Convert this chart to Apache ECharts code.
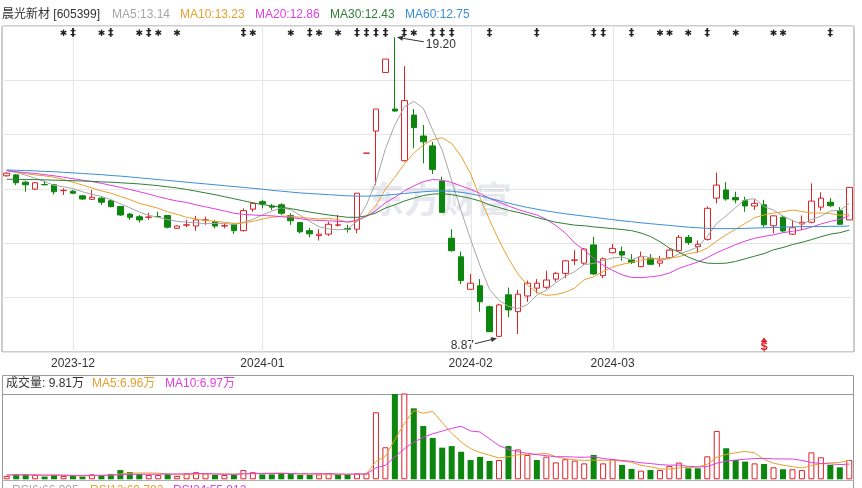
<!DOCTYPE html>
<html><head><meta charset="utf-8">
<script src="https://cdn.jsdelivr.net/npm/echarts/dist/echarts.min.js"></script>
<style>html,body{margin:0;padding:0;background:#fff;}#c{width:862px;height:488px;}</style>
</head><body><div id="c"></div>
<script>
// ---------------- DATA ----------------
const dates = [
'2023-11-22','2023-11-23','2023-11-24','2023-11-27','2023-11-28','2023-11-29','2023-11-30',
'2023-12-01','2023-12-04','2023-12-05','2023-12-06','2023-12-07','2023-12-08','2023-12-11','2023-12-12','2023-12-13','2023-12-14',
'2023-12-15','2023-12-18','2023-12-19','2023-12-20','2023-12-21','2023-12-22','2023-12-25','2023-12-26','2023-12-27','2023-12-28',
'2024-01-02','2024-01-03','2024-01-04','2024-01-05','2024-01-08','2024-01-09','2024-01-10','2024-01-11','2024-01-12','2024-01-15',
'2024-01-16','2024-01-17','2024-01-18','2024-01-19','2024-01-22','2024-01-23','2024-01-24','2024-01-25','2024-01-26','2024-01-29',
'2024-01-30','2024-01-31',
'2024-02-01','2024-02-02','2024-02-05','2024-02-06','2024-02-07','2024-02-08','2024-02-19','2024-02-20','2024-02-21','2024-02-22',
'2024-02-23','2024-02-26','2024-02-27','2024-02-28','2024-02-29',
'2024-03-01','2024-03-04','2024-03-05','2024-03-06','2024-03-07','2024-03-08','2024-03-11','2024-03-12','2024-03-13','2024-03-14',
'2024-03-15','2024-03-18','2024-03-19','2024-03-20','2024-03-21','2024-03-22','2024-03-25','2024-03-26','2024-03-27','2024-03-28',
'2024-03-29','2024-04-01','2024-04-02','2024-04-03','2024-04-08','2024-04-09'];
const tickLabels = ['2023-12','2024-01','2024-02','2024-03'];

const openP = [14.43,14.46,14.21,13.97,14.13,14.12,13.92,13.90,13.74,13.62,
13.66,13.57,13.37,13.11,13.02,13.00,13.03,13.06,12.62,12.73,
12.70,12.90,12.85,12.70,12.76,12.54,13.28,13.54,13.39,13.43,
13.06,12.82,12.54,12.37,12.42,12.73,12.61,12.59,15.21,15.97,
17.99,16.73,14.95,16.52,15.80,15.46,14.25,12.28,11.64,10.52,
10.64,9.92,8.90,10.33,9.75,10.29,10.56,10.59,10.87,11.07,
11.52,11.42,12.05,10.99,11.78,11.82,11.53,11.30,11.59,11.42,
11.61,11.85,12.31,11.99,12.24,13.66,13.94,13.68,13.57,13.39,
13.43,12.71,13.00,12.42,12.77,12.83,13.35,13.52,13.23,12.91];
const closeP = [14.52,14.19,14.12,14.19,14.12,13.88,13.93,13.83,13.63,13.69,
13.52,13.37,13.08,13.00,12.91,13.01,13.02,12.66,12.70,12.74,
12.91,12.91,12.70,12.71,12.54,13.23,13.48,13.46,13.35,13.14,
12.88,12.50,12.43,12.42,12.76,12.74,12.59,13.83,15.21,16.73,
18.45,16.66,17.02,16.09,15.60,14.65,13.17,11.85,10.82,10.73,
10.09,9.06,9.98,9.81,10.35,10.73,10.73,10.84,11.07,11.50,
11.53,11.91,11.05,11.57,11.93,11.70,11.44,11.64,11.38,11.50,
11.87,12.31,12.13,12.07,13.31,14.11,13.63,13.60,13.39,13.48,
12.74,13.05,12.53,12.64,12.83,13.56,13.66,13.40,12.76,14.03];
const lowP = [14.40,14.11,13.88,13.94,14.10,13.79,13.77,13.80,13.60,13.60,
13.43,13.34,13.05,12.91,12.82,12.91,13.01,12.62,12.60,12.66,
12.54,12.74,12.62,12.62,12.43,12.51,13.19,13.31,13.25,13.08,
12.74,12.45,12.31,12.20,12.36,12.68,12.47,12.45,15.21,14.11,
17.99,16.64,14.92,15.38,14.86,14.49,13.16,11.82,10.70,10.50,
9.75,9.05,8.87,9.56,8.98,10.09,10.38,10.52,10.78,10.90,
11.36,11.36,11.01,10.90,11.76,11.51,11.39,11.28,11.36,11.30,
11.59,11.84,12.05,11.78,12.20,13.48,13.57,13.48,13.19,13.25,
12.66,12.45,12.47,12.39,12.56,12.79,13.23,13.35,12.74,12.91];
const highP = [14.55,14.49,14.26,14.22,14.26,14.15,14.00,13.94,13.77,13.94,
13.71,13.60,13.39,13.15,13.08,13.16,13.19,13.08,12.72,12.91,
13.05,13.02,12.91,12.79,12.80,13.31,13.51,13.60,13.46,13.48,
13.14,12.84,12.64,12.59,12.85,13.08,12.74,13.84,15.21,16.73,
18.45,19.20,18.21,16.73,16.18,15.60,14.40,12.59,11.82,11.05,
10.87,9.96,10.02,10.58,10.50,10.82,10.87,11.16,11.12,11.53,
11.87,11.94,12.33,11.62,12.08,11.99,11.73,11.82,11.73,11.67,
11.93,12.39,12.39,12.20,13.37,14.54,14.21,13.88,13.71,13.62,
13.60,13.06,13.06,12.91,13.06,14.17,13.86,13.66,13.35,14.04];

const ma5 = [14.62,14.55,14.45,14.35,14.23,14.10,14.05,13.99,13.88,13.79,
13.72,13.61,13.46,13.33,13.18,13.07,13.00,12.92,12.86,12.83,
12.81,12.78,12.79,12.79,12.75,12.82,12.93,13.08,13.21,13.33,
13.26,13.07,12.86,12.67,12.60,12.57,12.59,12.87,13.43,14.22,
15.36,16.18,16.81,16.99,16.76,16.00,15.31,14.27,13.22,12.24,
11.33,10.51,10.14,9.93,9.86,9.99,10.32,10.49,10.74,10.97,
11.13,11.37,11.41,11.51,11.60,11.63,11.54,11.66,11.62,11.53,
11.57,11.74,11.84,11.98,12.34,12.79,13.05,13.34,13.61,13.64,
13.37,13.25,13.04,12.89,12.76,12.92,13.04,13.22,13.24,13.48];
const ma10 = [14.62,14.56,14.50,14.46,14.43,14.38,14.30,14.21,14.11,14.01,
13.91,13.83,13.72,13.61,13.48,13.40,13.31,13.19,13.10,13.00,
12.94,12.89,12.86,12.83,12.79,12.81,12.86,12.94,13.00,13.04,
13.04,13.00,12.97,12.94,12.97,12.92,12.83,12.86,13.05,13.41,
13.97,14.38,14.84,15.21,15.49,15.68,15.74,15.54,15.10,14.50,
13.67,12.91,12.20,11.58,11.05,10.66,10.42,10.31,10.34,10.42,
10.56,10.85,10.95,11.13,11.29,11.38,11.45,11.53,11.57,11.57,
11.60,11.64,11.75,11.80,11.94,12.18,12.40,12.59,12.79,12.99,
13.08,13.15,13.19,13.25,13.20,13.15,13.15,13.13,13.07,13.12];
const ma20 = [14.60,14.57,14.54,14.51,14.47,14.43,14.38,14.33,14.28,14.23,
14.17,14.10,14.03,13.96,13.88,13.80,13.71,13.63,13.56,13.51,
13.43,13.36,13.29,13.22,13.14,13.10,13.08,13.06,13.05,13.02,
12.99,12.95,12.91,12.89,12.88,12.86,12.84,12.90,13.03,13.23,
13.50,13.69,13.91,14.08,14.23,14.30,14.28,14.20,14.08,13.96,
13.82,13.65,13.52,13.39,13.27,13.17,13.08,12.93,12.72,12.46,
12.11,11.88,11.58,11.35,11.17,11.02,10.93,10.92,10.95,10.99,
11.08,11.24,11.35,11.46,11.61,11.78,11.92,12.06,12.18,12.28,
12.34,12.40,12.47,12.52,12.57,12.66,12.77,12.86,12.93,13.06];
const ma30 = [14.31,14.31,14.30,14.30,14.29,14.28,14.27,14.26,14.25,14.24,
14.22,14.21,14.19,14.17,14.15,14.12,14.09,14.05,14.01,13.96,
13.90,13.84,13.78,13.71,13.64,13.57,13.50,13.44,13.39,13.35,
13.30,13.24,13.18,13.13,13.08,13.04,13.00,13.00,13.05,13.15,
13.32,13.43,13.56,13.66,13.75,13.80,13.81,13.78,13.72,13.65,
13.56,13.43,13.34,13.24,13.17,13.09,12.99,12.91,12.83,12.78,
12.73,12.71,12.67,12.64,12.61,12.58,12.54,12.46,12.34,12.16,
11.94,11.80,11.63,11.50,11.42,11.41,11.42,11.48,11.57,11.66,
11.75,11.88,11.96,12.06,12.14,12.23,12.33,12.42,12.47,12.56];
const ma60 = [14.63,14.62,14.61,14.60,14.58,14.57,14.55,14.53,14.51,14.49,
14.47,14.44,14.42,14.39,14.36,14.33,14.30,14.27,14.24,14.21,
14.18,14.15,14.12,14.09,14.06,14.03,14.00,13.97,13.93,13.90,
13.87,13.84,13.82,13.80,13.78,13.76,13.74,13.73,13.73,13.74,
13.76,13.79,13.82,13.85,13.88,13.90,13.91,13.90,13.86,13.81,
13.74,13.66,13.57,13.49,13.41,13.34,13.28,13.22,13.17,13.12,
13.08,13.04,13.00,12.96,12.92,12.88,12.85,12.81,12.78,12.75,
12.72,12.69,12.66,12.64,12.62,12.61,12.61,12.61,12.62,12.63,
12.64,12.65,12.66,12.67,12.68,12.68,12.68,12.69,12.69,12.70];

// volume in 万手
const volume = [1.7,2.7,2.7,2.2,1.4,2.2,1.7,1.7,1.4,2.5,
2.2,2.7,4.7,3.7,2.7,2.2,2.2,2.7,1.7,3.0,
3.6,3.0,2.2,2.2,2.2,4.7,3.6,2.5,2.5,3.0,
3.0,2.2,2.2,2.5,3.0,2.5,2.5,3.0,3.0,34.1,
16.3,44.5,44.0,36.1,27.1,21.0,16.1,16.9,14.0,9.8,
11.4,9.3,9.8,16.9,15.2,12.4,9.8,11.5,8.6,10.2,
9.5,8.1,12.4,8.1,10.2,7.3,5.3,4.4,4.7,4.7,
6.8,8.5,5.6,5.6,11.7,24.6,15.8,9.8,9.0,8.1,
7.8,6.1,5.1,5.1,4.7,13.7,11.2,7.3,6.1,9.81];
// 1 = up day (red), -1 = down day (green)
const volDir = [1,-1,-1,1,-1,-1,1,-1,-1,1,
-1,-1,-1,-1,-1,1,1,-1,1,1,
1,1,-1,1,-1,1,1,-1,-1,-1,
-1,-1,-1,1,1,-1,-1,1,1,1,
1,-1,1,-1,-1,-1,-1,-1,-1,-1,
-1,-1,1,-1,1,1,-1,1,1,1,
1,1,-1,1,1,-1,-1,1,-1,1,
1,1,-1,-1,1,1,-1,-1,-1,1,
-1,1,-1,1,1,1,1,-1,-1,1];
const volMa5 = [2.2,2.3,2.3,2.2,2.14,2.24,2.04,1.84,1.68,1.90,
1.90,2.10,2.70,3.16,3.20,3.20,3.10,2.70,2.30,2.36,
2.64,2.80,2.70,2.80,2.64,2.86,2.98,3.04,3.10,3.26,
2.92,2.64,2.58,2.58,2.58,2.48,2.54,2.70,2.80,9.02,
11.78,20.18,28.38,35.00,33.60,34.54,28.86,23.44,19.02,15.56,
13.64,12.28,10.86,11.44,12.52,12.72,12.82,13.16,11.50,10.50,
9.92,9.58,9.76,9.66,9.66,9.22,8.66,7.06,6.38,5.28,
5.18,5.82,6.06,6.24,7.64,11.20,12.66,13.50,14.18,13.46,
10.10,8.16,7.22,6.44,5.76,6.94,7.96,8.40,8.60,9.62];
const volMa10 = [2.2,2.2,2.2,2.2,2.1,2.1,2.1,2.0,2.0,2.02,
2.07,2.07,2.27,2.42,2.55,2.55,2.60,2.70,2.73,2.78,
2.92,2.95,2.70,2.55,2.50,2.75,2.89,2.87,2.95,2.95,
2.89,2.81,2.81,2.84,2.92,2.70,2.59,2.64,2.69,5.80,
7.13,11.36,15.54,18.90,21.31,23.16,24.52,25.91,27.01,24.58,
24.09,20.57,17.15,15.23,14.04,13.18,12.55,12.01,11.47,11.51,
11.32,11.20,11.46,10.58,10.08,9.57,9.12,8.41,8.02,7.47,
7.20,7.24,6.56,6.31,6.46,8.19,9.24,9.78,10.21,10.55,
10.65,10.41,10.36,10.31,9.61,8.52,8.06,7.81,7.52,7.69];

// info markers above candles
const markerIdx = [6,7,10,11,14,15,16,18,25,26,30,32,33,35,37,38,39,40,42,43,45,46,47,51,56,62,63,66,69,70,72,74,77,81,82,87];
const markerSym = ['*','‡','*','‡','*','‡','*','*','‡','*','*','‡','*','*','‡','‡','‡','‡','‡','*','‡','‡','‡','‡','‡','‡','‡','‡','*','*','*','‡','*','*','*','‡'];
const signalIdx = [80];

const headerTexts = ['晨光新材 [605399]','MA5:13.14','MA10:13.23','MA20:12.86','MA30:12.43','MA60:12.75'];
const volHeaderTexts = ['成交量: 9.81万','MA5:6.96万','MA10:6.97万'];
const rsiTexts = ['RSI6:66.905','RSI12:60.782','RSI24:55.812'];

// ---------------- STYLE / LAYOUT ----------------
const RED = '#dd2328', GREEN = '#0d860e';
const C_MA5 = '#a6a6a6', C_MA10 = '#e8a030', C_MA20 = '#e040e0', C_MA30 = '#2f7f35', C_MA60 = '#3a8ed8';
const FONT = '"Liberation Sans", "Noto Sans CJK SC", sans-serif';
const PRICE_MIN = 8.36, PRICE_MAX = 19.59, VOL_MAX = 43.4;

const monthStart = [];
dates.forEach((d, i) => {
  const m = d.slice(0, 7);
  if ((i === 0 || dates[i - 1].slice(0, 7) !== m) && tickLabels.includes(m)) monthStart.push(i);
});

const chart = echarts.init(document.getElementById('c'));

const lineS = (data, color, xi, yi) => ({
  type: 'line', data, xAxisIndex: xi, yAxisIndex: yi, showSymbol: false, symbol: 'none',
  lineStyle: { color, width: 1 }, z: 3, silent: true
});

const option = {
  animation: false,
  textStyle: { fontFamily: FONT },
  grid: [
    { left: 2, top: 26, width: 852, height: 326, show: true, borderColor: '#9a9a9a', borderWidth: 1, backgroundColor: 'transparent' },
    { left: 2, top: 394, width: 852, height: 85.3 }
  ],
  xAxis: [
    { type: 'category', gridIndex: 0, data: dates, boundaryGap: true,
      axisLine: { show: false }, axisTick: { show: false }, splitLine: { show: false },
      axisLabel: { interval: (i) => monthStart.includes(i), formatter: (v) => v.slice(0, 7), color: '#333', fontSize: 12, margin: 6 } },
    { type: 'category', gridIndex: 1, data: dates, boundaryGap: true, show: false }
  ],
  yAxis: [
    { type: 'value', gridIndex: 0, min: PRICE_MIN, max: PRICE_MAX, show: false },
    { type: 'value', gridIndex: 0, min: 0, max: 6, interval: 1,
      axisLine: { show: false }, axisTick: { show: false }, axisLabel: { show: false },
      splitLine: { show: true, lineStyle: { color: '#e6e6e6', width: 1 } } },
    { type: 'value', gridIndex: 1, min: 0, max: VOL_MAX, show: false }
  ],
  series: [
    { type: 'custom', xAxisIndex: 0, yAxisIndex: 0, z: 1, silent: true,
      data: monthStart.map(i => [i]),
      renderItem: (params, api) => {
        const cs = params.coordSys;
        const x = Math.round(api.coord([api.value(0), PRICE_MIN])[0]) + 0.5;
        return { type: 'line', shape: { x1: x, y1: cs.y, x2: x, y2: cs.y + cs.height }, style: { stroke: '#e6e6e6', lineWidth: 1 } };
      } },
    { type: 'candlestick', xAxisIndex: 0, yAxisIndex: 0, z: 2, barWidth: 6, silent: true,
      data: dates.map((d, i) => [openP[i], closeP[i], lowP[i], highP[i]]),
      itemStyle: { color: '#ffffff', color0: GREEN, borderColor: RED, borderColor0: GREEN, borderWidth: 1 } },
    lineS(ma5, C_MA5, 0, 0),
    lineS(ma10, C_MA10, 0, 0),
    lineS(ma20, C_MA20, 0, 0),
    lineS(ma30, C_MA30, 0, 0),
    lineS(ma60, C_MA60, 0, 0),
    { type: 'custom', xAxisIndex: 0, yAxisIndex: 0, z: 4, silent: true,
      data: markerIdx.map(i => [i]),
      renderItem: (params, api) => {
        const cs = params.coordSys;
        const x = api.coord([api.value(0), PRICE_MIN])[0];
        const s = markerSym[params.dataIndex];
        return { type: 'text', style: {
          text: s === '*' ? '✱' : '‡', x: x, y: cs.y + 7.5, align: 'center', verticalAlign: 'middle',
          font: s === '*' ? '9px "DejaVu Sans"' : 'bold 11px "DejaVu Sans"', fill: '#222' } };
      } },
    { type: 'custom', xAxisIndex: 0, yAxisIndex: 0, z: 4, silent: true,
      data: signalIdx.map(i => [i]),
      renderItem: (params, api) => {
        const cs = params.coordSys;
        const x = api.coord([api.value(0), PRICE_MIN])[0];
        const b = cs.y + cs.height;
        return { type: 'group', children: [
          { type: 'polygon', shape: { points: [[x, b - 14.5], [x - 3.5, b - 10], [x + 3.5, b - 10]] }, style: { fill: RED } },
          { type: 'line', shape: { x1: x, y1: b - 11, x2: x, y2: b }, style: { stroke: RED, lineWidth: 1 } },
          { type: 'text', style: { text: 'S', x: x, y: b - 5, align: 'center', verticalAlign: 'middle', font: 'bold 11px ' + FONT, fill: RED } }
        ] };
      } },
    { type: 'bar', xAxisIndex: 1, yAxisIndex: 2, barWidth: 6, silent: true, clip: true,
      data: volume.map((v, i) => ({ value: v,
        itemStyle: volDir[i] > 0 ? { color: '#ffffff', borderColor: RED, borderWidth: 1 } : { color: GREEN, borderColor: GREEN, borderWidth: 0 } })) },
    lineS(volMa5, C_MA10, 1, 2),
    lineS(volMa10, C_MA20, 1, 2)
  ]
};
chart.setOption(option);

// ---------- overlay texts and annotations ----------
const g = [];
const txt = (text, x, y, color, extra) => Object.assign({ type: 'text', silent: true,
  style: { text, x, y, fill: color, font: '12px ' + FONT, verticalAlign: 'middle', align: 'left' } }, extra || {});
const headerX = [2, 112, 180, 255, 330, 405];
const headerC = ['#333', C_MA5, C_MA10, C_MA20, C_MA30, C_MA60];
headerTexts.forEach((t, i) => g.push(txt(t, headerX[i], 15, headerC[i])));
const volX = [6, 92, 165], volC = ['#333', C_MA10, C_MA20];
volHeaderTexts.forEach((t, i) => g.push(txt(t, volX[i], 383.5, volC[i])));
const rsiX = [12, 90, 173], rsiC = [C_MA5, C_MA10, C_MA20];
rsiTexts.forEach((t, i) => g.push({ type: 'text', silent: true, style: { text: t, x: rsiX[i], y: 485, fill: rsiC[i], font: '12px ' + FONT, verticalAlign: 'top' } }));
// volume panel frame
g.push({ type: 'rect', silent: true, shape: { x: 2.5, y: 375.5, width: 851, height: 130 }, style: { fill: 'none', stroke: '#9a9a9a', lineWidth: 1 } });
g.push({ type: 'line', silent: true, shape: { x1: 2.5, y1: 394.5, x2: 853.5, y2: 394.5 }, style: { stroke: '#9a9a9a', lineWidth: 1 } });
g.push({ type: 'line', silent: true, shape: { x1: 2.5, y1: 480.5, x2: 853.5, y2: 480.5 }, style: { stroke: '#b0b0b0', lineWidth: 1 } });
// watermark
g.push({ type: 'text', silent: true, z: 0, style: { text: '东方财富', x: 368, y: 199, fill: 'rgba(130,140,165,0.2)', font: 'bold 36px "Noto Sans CJK SC"', verticalAlign: 'middle' } });

const hiIdx = highP.indexOf(Math.max(...highP));
const loIdx = lowP.indexOf(Math.min(...lowP));
const ph = chart.convertToPixel({ seriesIndex: 1 }, [hiIdx, highP[hiIdx]]);
const pl = chart.convertToPixel({ seriesIndex: 1 }, [loIdx, lowP[loIdx]]);
function arrow(tip, from, color) {
  const dx = tip[0] - from[0], dy = tip[1] - from[1], L = Math.hypot(dx, dy), ux = dx / L, uy = dy / L;
  const bx = tip[0] - ux * 6, by = tip[1] - uy * 6;
  g.push({ type: 'line', silent: true, shape: { x1: from[0], y1: from[1], x2: bx, y2: by }, style: { stroke: color, lineWidth: 1 } });
  g.push({ type: 'polygon', silent: true, shape: { points: [[tip[0], tip[1]], [bx - uy * 2.5, by + ux * 2.5], [bx + uy * 2.5, by - ux * 2.5]] }, style: { fill: color } });
}
arrow([ph[0] + 2, ph[1]], [ph[0] + 29, ph[1] + 4.5], '#333');
g.push(txt(highP[hiIdx].toFixed(2), ph[0] + 31, ph[1] + 7, '#333'));
arrow([pl[0] - 2, pl[1] + 1], [pl[0] - 24, pl[1] + 6.5], '#333');
g.push({ type: 'text', silent: true, style: { text: lowP[loIdx].toFixed(2), x: pl[0] - 25, y: pl[1] + 8, fill: '#333', font: '12px ' + FONT, verticalAlign: 'middle', align: 'right' } });

chart.setOption({ graphic: g });
</script>
</body></html>
